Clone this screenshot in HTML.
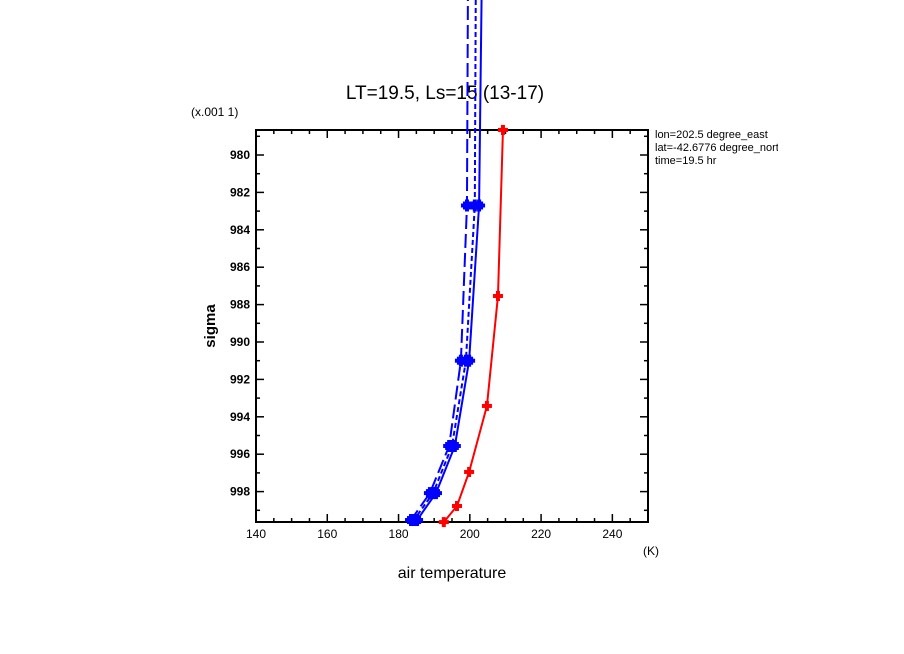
<!DOCTYPE html>
<html><head><meta charset="utf-8"><style>
body{margin:0;background:#fff;}
svg{display:block;font-family:"Liberation Sans",sans-serif;}
</style></head><body>
<svg id="c" width="904" height="654" viewBox="0 0 904 654">
<defs><clipPath id="rc"><rect x="652" y="120" width="126" height="60"/></clipPath></defs>
<text x="445" y="99" font-size="19" text-anchor="middle">LT=19.5, Ls=15 (13-17)</text>
<text x="191" y="116" font-size="12">(x.001 1)</text>
<text x="452" y="578" font-size="16" text-anchor="middle">air temperature</text>
<text x="643" y="555" font-size="12">(K)</text>
<text x="215" y="326" font-size="15" font-weight="bold" text-anchor="middle" transform="rotate(-90 215 326)">sigma</text>
<g clip-path="url(#rc)" font-size="11">
<text x="655" y="138">lon=202.5 degree_east</text>
<text x="655" y="151">lat=-42.6776 degree_north</text>
<text x="655" y="164">time=19.5 hr</text>
</g>
<g id="axes"></g>
<g id="series"></g>
</svg>
<script>
const xTicks=[140,160,180,200,220,240];
const yTicks=[980,982,984,986,988,990,992,994,996,998];
const redT=[209.3,207.9,204.8,199.8,196.4,192.7];
const redS=[978.66,987.54,993.42,996.95,998.77,999.63];
const blueS=[970,982.7,991.0,995.56,998.08,999.52];
const blueSolid=[203.4,202.6,199.8,195.8,190.5,185.2];
const blueShort=[201.7,201.4,198.9,195.0,189.7,184.3];
const blueLong=[199.5,199.2,197.5,194.2,188.8,183.5];
const X0=256,X1=648,Y0=130,Y1=522;
const xs=t=>X0+(t-140)*(X1-X0)/110;
const ys=s=>155+(s-980)*18.7;
const NS='http://www.w3.org/2000/svg';
function mk(tag,attrs,parent){const e=document.createElementNS(NS,tag);for(const k in attrs)e.setAttribute(k,attrs[k]);parent.appendChild(e);return e;}
const ax=document.getElementById('axes'),sg=document.getElementById('series');
const frame=mk('rect',{x:X0,y:Y0,width:X1-X0,height:Y1-Y0,fill:'none',stroke:'#000','stroke-width':2},ax);


for(let t=140;t<=250;t+=5){const x=xs(t);const L=t%20===0?8:4;
mk('line',{x1:x,x2:x,y1:Y1,y2:Y1-L,stroke:'#000','stroke-width':1.5},ax);
mk('line',{x1:x,x2:x,y1:Y0,y2:Y0+L,stroke:'#000','stroke-width':1.5},ax);}
xTicks.forEach(t=>{const e=mk('text',{x:xs(t),y:538,'font-size':12,'text-anchor':'middle'},ax);e.textContent=t;

});
for(let s=979;s<=999.6;s+=1){const y=ys(s);const L=s%2===0?8:4;
mk('line',{x1:X0,x2:X0+L,y1:y,y2:y,stroke:'#000','stroke-width':1.5},ax);
mk('line',{x1:X1,x2:X1-L,y1:y,y2:y,stroke:'#000','stroke-width':1.5},ax);}
yTicks.forEach(s=>{const e=mk('text',{x:250,y:ys(s)+4,'font-size':12,'font-weight':'bold','text-anchor':'end'},ax);e.textContent=s;

});
function line(T,S,color,dash,name){
const p=mk('polyline',{points:T.map((t,i)=>xs(t)+','+ys(S[i])).join(' '),fill:'none',stroke:color,'stroke-width':2,'stroke-dasharray':dash},sg);

}
function blob(T,S,color,name,skip){T.forEach((t,i)=>{if(i<skip)return;
const g=mk('g',{fill:color},sg);


const x=xs(t),y=ys(S[i]);
mk('rect',{x:x-6,y:y-2,width:12,height:4},g);mk('rect',{x:x-2,y:y-6,width:4,height:12},g);
mk('rect',{x:x-4,y:y-4,width:8,height:8},g);});}
line(blueLong,blueS,'#00f','14 5','series-long-dash');
line(blueShort,blueS,'#00f','5 3','series-short-dash');
line(blueSolid,blueS,'#00f','none','series-solid');
blob(blueLong,blueS,'#00f','blue-marker',1);
blob(blueShort,blueS,'#00f','blue-marker',1);
blob(blueSolid,blueS,'#00f','blue-marker',1);
line(redT,redS,'#f00','none','series-red');
redT.forEach((t,i)=>{const g=mk('g',{fill:'#f00'},sg);


const x=xs(t),y=ys(redS[i]);
mk('rect',{x:x-5,y:y-2,width:10,height:4},g);mk('rect',{x:x-2,y:y-5,width:4,height:10},g);});
</script>
</body></html>
